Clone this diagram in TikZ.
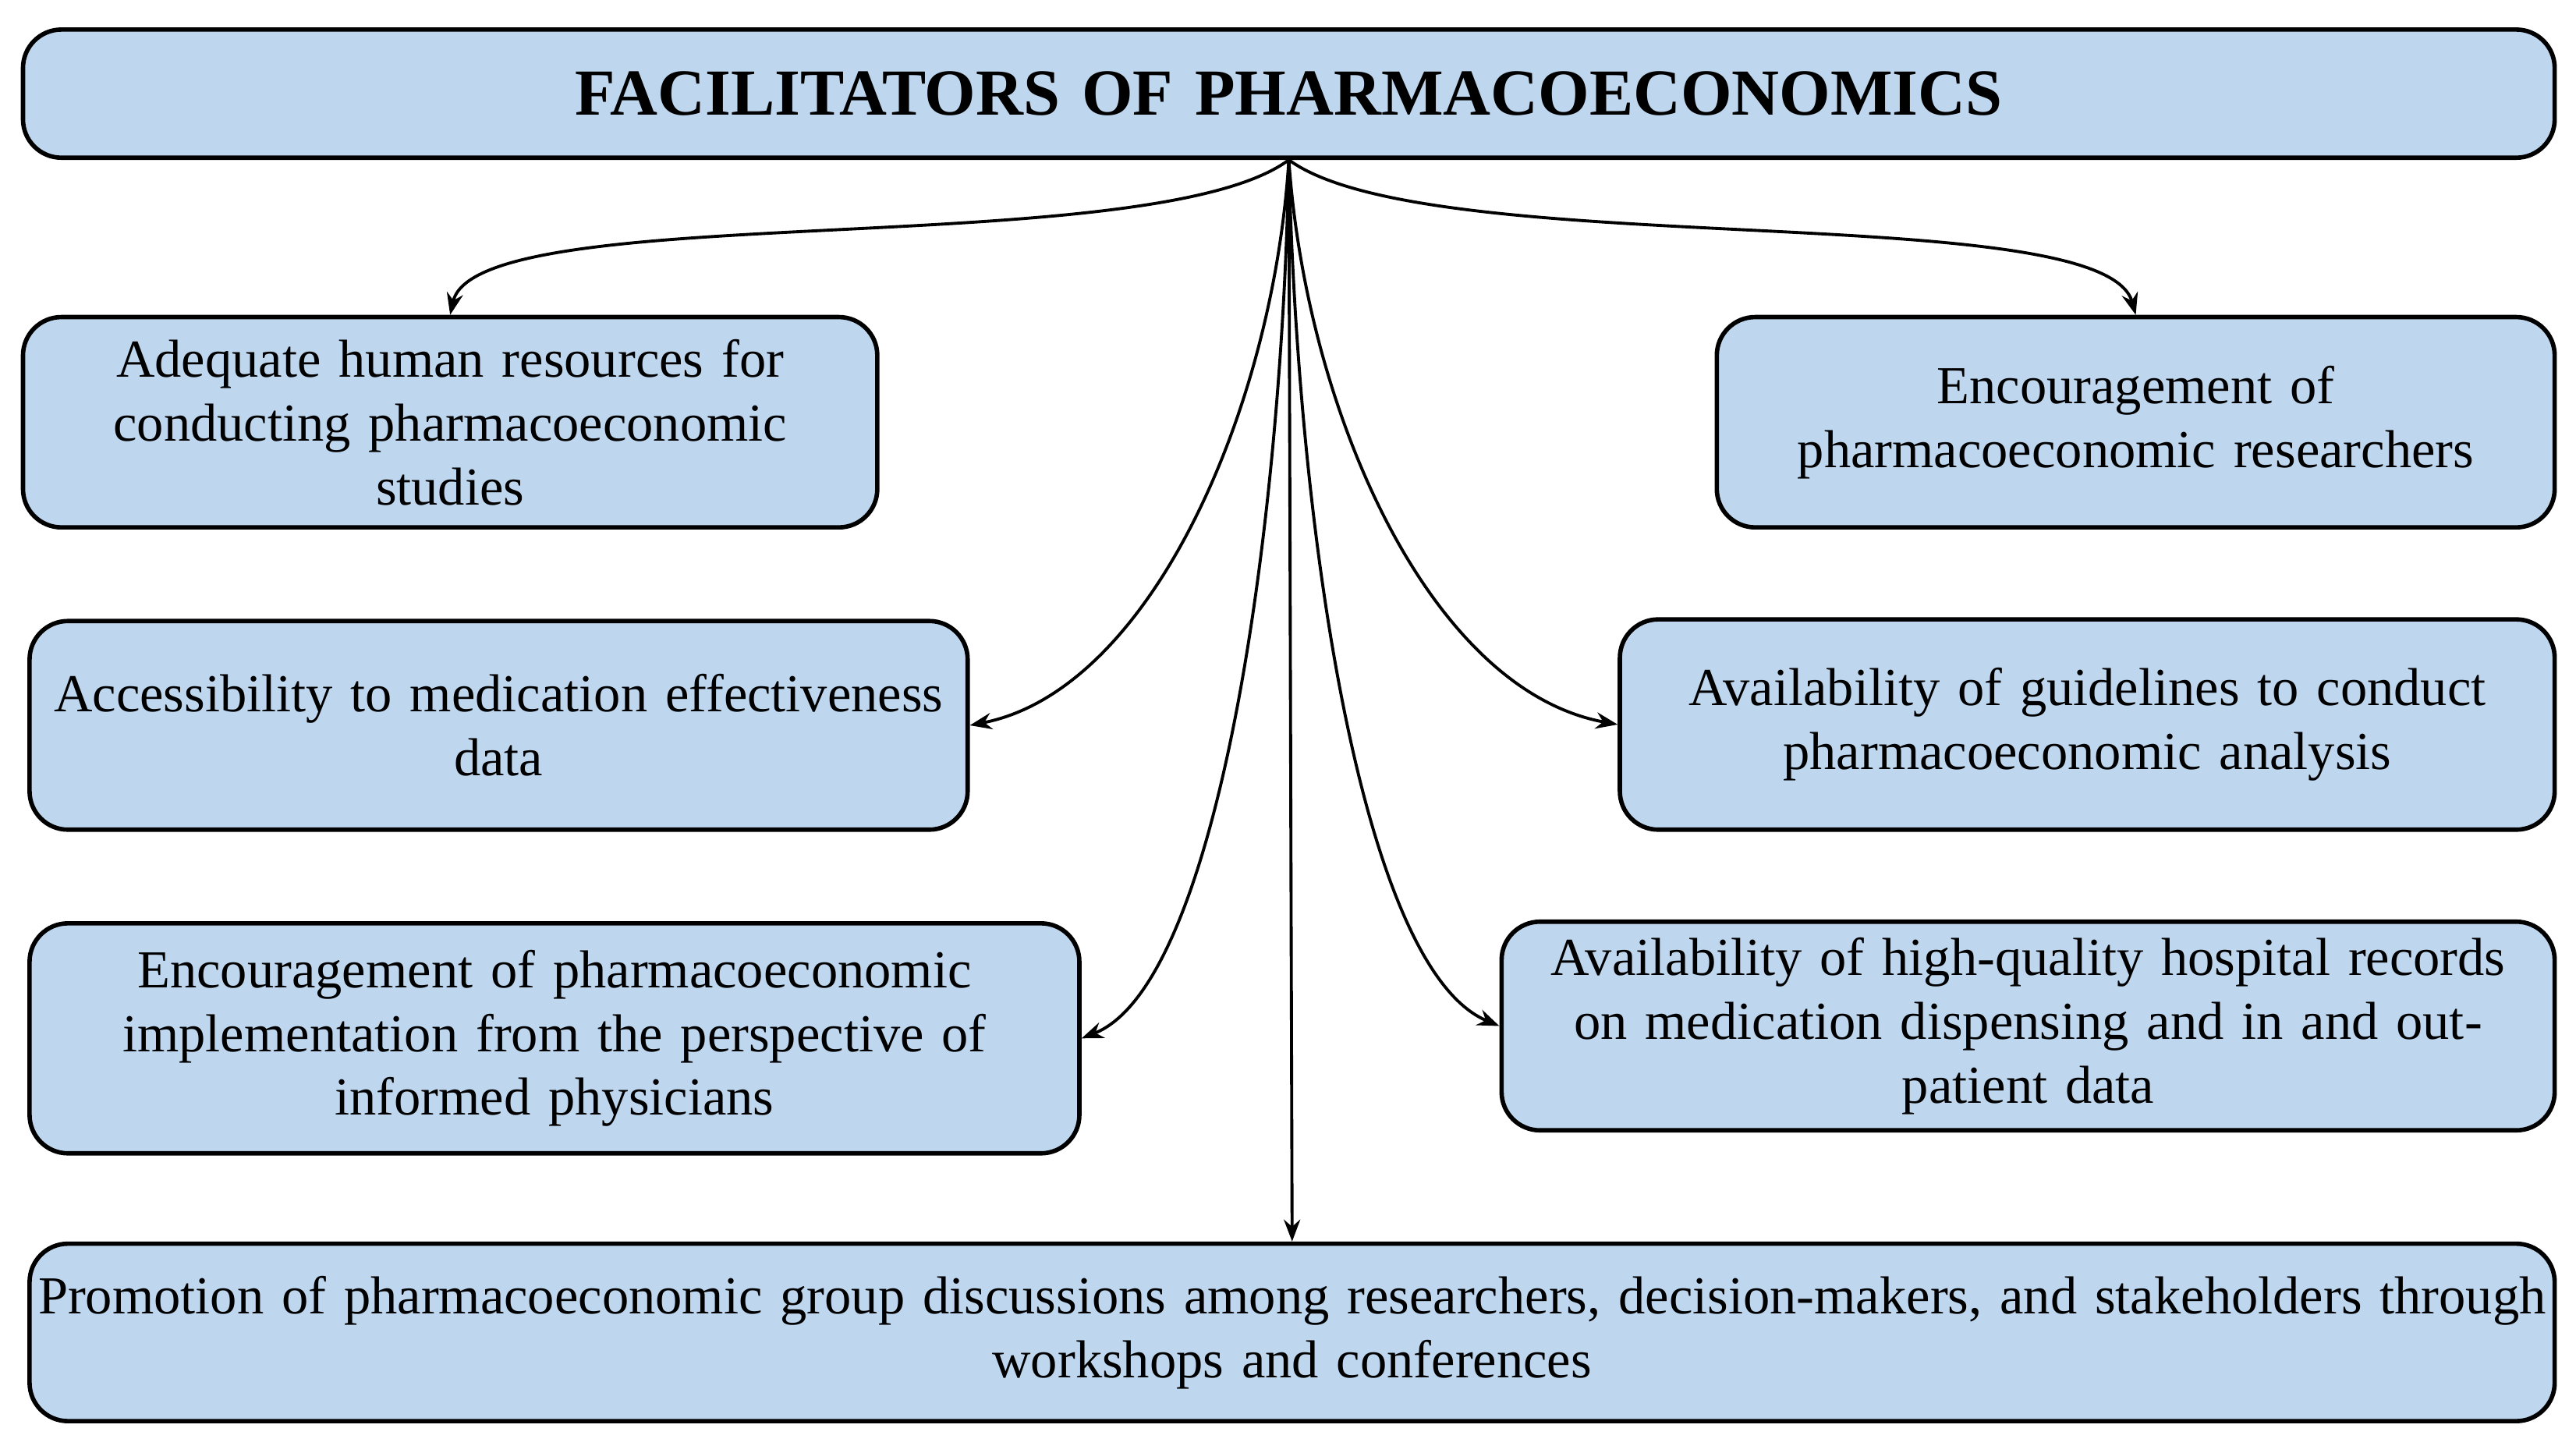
\documentclass[tikz,border=0pt]{standalone}
\usepackage{fontspec}
\setmainfont{Liberation Serif}
\usetikzlibrary{arrows.meta}
\definecolor{boxblue}{RGB}{190,215,238}
\tikzset{
    fbox/.style={draw=black, line width=1.6pt, fill=boxblue, rounded corners=14pt,
        align=center, inner sep=0pt, font=\fontsize{19.5}{23.3}\selectfont},
    link/.style={-{Stealth[length=8pt,width=6pt]}, line width=1.1pt}
}
\begin{document}
\begin{tikzpicture}[x=0.02107cm, y=-0.02107cm]
        \useasboundingbox (0,0) rectangle (1568,884);

        % Title box
        \node[fbox, text width=1541*0.02107cm, minimum height=78*0.02107cm,
              font=\fontsize{24}{28}\selectfont\bfseries] (title) at (784.5,57) {FACILITATORS OF PHARMACOECONOMICS};

        % Facilitator boxes
        \node[fbox, text width=520*0.02107cm, minimum height=128*0.02107cm] (human) at (274,257)
            {Adequate human resources for\\conducting pharmacoeconomic\\studies};
        \node[fbox, text width=510*0.02107cm, minimum height=128*0.02107cm] (research) at (1300,257)
            {Encouragement of\\pharmacoeconomic researchers};
        \node[fbox, text width=571*0.02107cm, minimum height=127*0.02107cm] (effect) at (303.5,441.5)
            {Accessibility to medication effectiveness\\data};
        \node[fbox, text width=569*0.02107cm, minimum height=128*0.02107cm] (guide) at (1270.5,441)
            {Availability of guidelines to conduct\\pharmacoeconomic analysis};
        \node[fbox, text width=639*0.02107cm, minimum height=140*0.02107cm] (physic) at (337.5,632)
            {Encouragement of pharmacoeconomic\\implementation from the perspective of\\informed physicians};
        \node[fbox, text width=641*0.02107cm, minimum height=127*0.02107cm] (record) at (1234.5,624.5)
            {Availability of high-quality hospital records\\on medication dispensing and in and out-\\patient data};
        \node[fbox, text width=1537*0.02107cm, minimum height=108*0.02107cm] (promo) at (786.5,811)
            {Promotion of pharmacoeconomic group discussions among researchers, decision-makers, and stakeholders through\\workshops and conferences};

        % Connectors from the title
        \draw[link] (title.south) .. controls (700,160) and (290,120) .. (human.north);
        \draw[link] (title.south) .. controls (870,160) and (1280,120) .. (research.north);
        \draw[link] (title.south) .. controls (775,250) and (700,420) .. (effect.east);
        \draw[link] (title.south) .. controls (795,250) and (870,420) .. (guide.west);
        \draw[link] (title.south) .. controls (780,330) and (740,600) .. (physic.east);
        \draw[link] (title.south) .. controls (790,330) and (830,590) .. (record.west);
        \draw[link] (title.south) -- (promo.north);
    \end{tikzpicture}
\end{document}
